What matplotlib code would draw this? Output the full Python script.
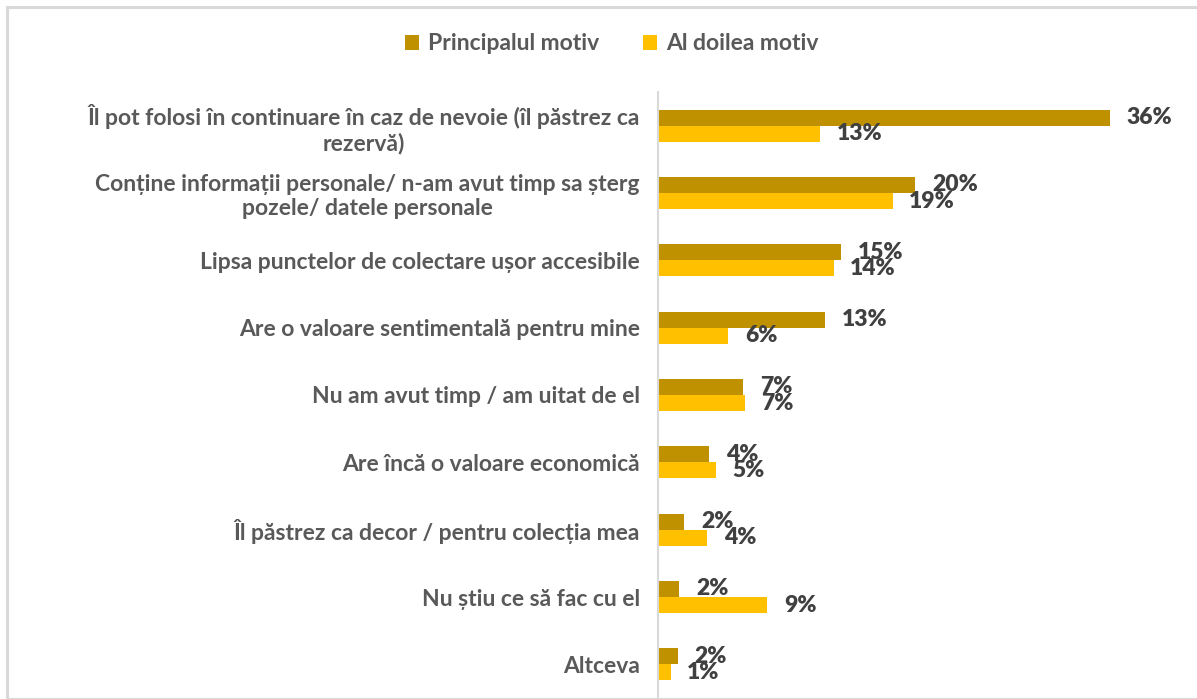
import matplotlib.pyplot as plt
from matplotlib.patches import Rectangle
import numpy as np

plt.rcParams['font.family'] = ['Lato', 'DejaVu Sans']

categories = [
    "Îl pot folosi în continuare în caz de nevoie (îl păstrez ca\nrezervă)",
    "Conține informații personale/ n-am avut timp sa șterg\npozele/ datele personale",
    "Lipsa punctelor de colectare ușor accesibile",
    "Are o valoare sentimentală pentru mine",
    "Nu am avut timp / am uitat de el",
    "Are încă o valoare economică",
    "Îl păstrez ca decor / pentru colecția mea",
    "Nu știu ce să fac cu el",
    "Altceva",
]
principal = [36.0, 20.5, 14.6, 13.3, 6.8, 4.1, 2.1, 1.7, 1.6]
al_doilea = [12.9, 18.7, 14.0, 5.6, 6.9, 4.6, 3.9, 8.7, 1.0]
series_names = ["Principalul motiv", "Al doilea motiv"]
colors = ["#BF9000", "#FFC000"]

W, H = 1197, 699
fig = plt.figure(figsize=(W / 100, H / 100), dpi=100)
fig.patches.append(Rectangle((7 / W, 0), 1.2, (H - 7) / H, transform=fig.transFigure,
                             fill=False, edgecolor="#D9D9D9", linewidth=2.2))

ax_left, ax_right, ax_top, ax_bot = 658, 1160, 92, 698
ax = fig.add_axes([ax_left / W, 1 - ax_bot / H, (ax_right - ax_left) / W, (ax_bot - ax_top) / H])

y = np.arange(len(categories))
h = 0.24
b1 = ax.barh(y - h / 2, principal, height=h, color=colors[0], label=series_names[0])
b2 = ax.barh(y + h / 2, al_doilea, height=h, color=colors[1], label=series_names[1])

# etichete valori, rotunjite la procent intreg
for bars, vals in ((b1, principal), (b2, al_doilea)):
    ax.bar_label(bars, labels=[f"{round(v):.0f}%" for v in vals], padding=12,
                 fontsize=16.5, fontweight="heavy", color="#404040")

ax.set_ylim(len(categories) - 0.5, -0.5)
ax.set_xlim(0, 40)
ax.set_yticks(y)
ax.set_yticklabels(categories, fontsize=16.5, fontweight="bold", color="#595959")
for t in ax.get_yticklabels():
    t.set_multialignment("center")
ax.tick_params(axis="y", length=0, pad=13)
ax.set_xticks([])
for s in ("top", "right", "bottom"):
    ax.spines[s].set_visible(False)
ax.spines["left"].set_color("#D9D9D9")
ax.spines["left"].set_linewidth(1.5)

leg = fig.legend(loc="center", bbox_to_anchor=(612 / W, 1 - 44 / H), ncol=2, frameon=False,
                 prop={"size": 16.5, "weight": "bold"}, handlelength=0.6, handleheight=0.6,
                 handletextpad=0.4, columnspacing=1.9)
for t in leg.get_texts():
    t.set_color("#595959")

fig.savefig("out.png", dpi=100)
